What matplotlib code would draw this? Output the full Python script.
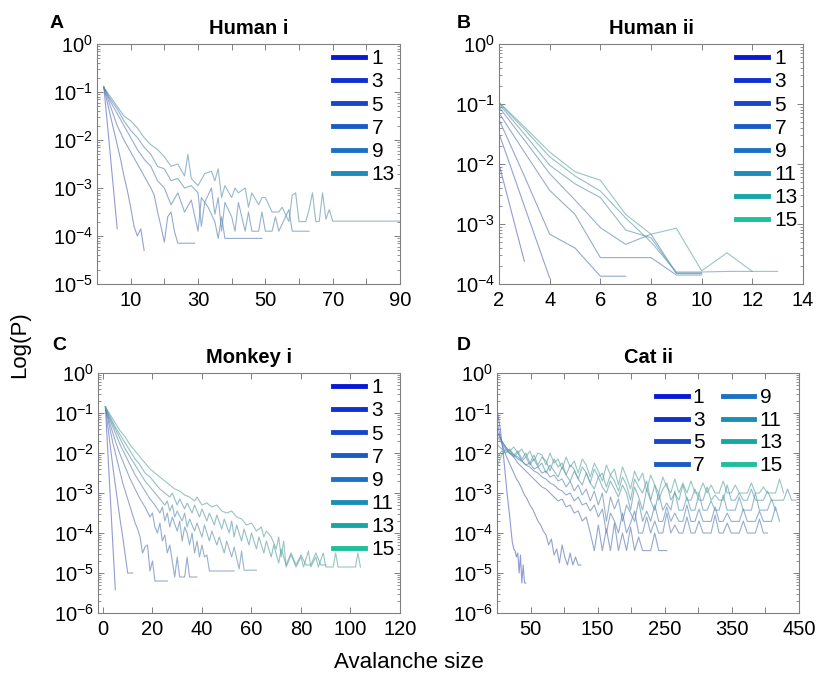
import numpy as np
import matplotlib
matplotlib.use("Agg")
import matplotlib.pyplot as plt
from matplotlib.lines import Line2D
from matplotlib.ticker import LogLocator, NullFormatter

plt.rcParams['font.family'] = ['Liberation Sans', 'DejaVu Sans']
plt.rcParams['mathtext.fontset'] = 'custom'
plt.rcParams['mathtext.rm'] = 'Liberation Sans'
plt.rcParams['mathtext.it'] = 'Liberation Sans:italic'
plt.rcParams['mathtext.bf'] = 'Liberation Sans:bold'

# legend colours, one per bin width label
labels_all = ['1', '3', '5', '7', '9', '11', '13', '15']
colors_all = ['#0a18d6', '#1030d0', '#1646cc', '#1a5cc6',
              '#1c72c2', '#1a8eb8', '#16a6a8', '#1ebf9c']

# ---- Panel A: Human i (log10 P) ----
a_labels = ['1', '3', '5', '7', '9', '13']
a_x1 = [2, 3, 4, 5, 6]
a_y1 = [-0.88, -1.6, -2.35, -3.1, -3.85]
a_x3 = [2, 3, 4, 5, 6, 7, 8, 9, 10, 11, 12, 13, 14]
a_y3 = [-0.9, -1.2, -1.5, -1.8, -2.1, -2.4, -2.75, -3.05, -3.4, -3.8, -4.0, -3.85, -4.3]
a_x5 = [2, 4, 6, 8, 10, 12, 14, 16, 17, 18, 19, 20, 21, 22, 23, 24, 29]
a_y5 = [-0.9, -1.3, -1.7, -2.0, -2.25, -2.5, -2.75, -3.0, -3.15, -3.5, -3.8, -4.13,
        -3.6, -3.5, -3.9, -4.15, -4.15]
a_x7 = [2, 4, 6, 8, 10, 12, 14, 16, 18, 20, 22, 24, 26, 28, 30, 31, 33, 35, 36, 37, 38, 49]
a_y7 = [-0.9, -1.2, -1.45, -1.7, -1.95, -2.2, -2.4, -2.55, -2.85, -3.0, -3.35, -3.1,
        -3.5, -3.25, -3.9, -3.2, -3.4, -3.7, -4.05, -3.6, -4.05, -4.05]
a_x9 = [2, 4, 6, 8, 10, 12, 14, 16, 18, 20, 22, 24, 26, 28, 30, 31, 32, 34, 35, 36,
        37, 38, 40, 41, 42, 44, 45, 46, 48, 49, 50, 52, 53, 54, 57, 58, 63]
a_y9 = [-0.9, -1.15, -1.35, -1.6, -1.8, -1.95, -2.15, -2.3, -2.55, -2.6,
        -2.85, -2.8, -3.0, -2.95, -3.1, -3.8, -3.3, -3.0, -3.55, -3.2,
        -3.9, -3.3, -3.6, -3.9, -3.3, -3.9, -3.5, -3.9, -3.9, -3.5,
        -3.9, -3.9, -3.6, -3.9, -3.45, -3.9, -3.9]
a_x13 = [2, 4, 6, 8, 10, 12, 14, 16, 18, 20, 22, 24, 26, 27, 28, 30, 32, 34, 35, 36,
         37, 38, 40, 41, 42, 44, 45, 46, 48, 49, 50, 52, 53, 54, 55, 57, 58, 59, 60, 61,
         62, 63, 64, 65, 66, 67, 68, 69, 70, 90]
a_y13 = [-0.9, -1.1, -1.3, -1.5, -1.6, -1.75, -1.95, -2.1, -2.2, -2.35,
         -2.55, -2.5, -2.75, -2.3, -2.8, -2.95, -2.7, -2.65, -2.85, -2.6,
         -3.2, -2.95, -3.2, -3.0, -3.1, -3.0, -3.4, -3.1, -3.35, -3.2,
         -3.2, -3.5, -3.5, -3.5, -3.4, -3.7, -3.15, -3.1, -3.7, -3.7,
         -3.7, -3.45, -3.1, -3.7, -3.7, -3.1, -3.65, -3.45, -3.69, -3.69]

# ---- Panel B: Human ii ----
b_x1 = [2, 3]
b_y1 = [-2.0, -3.62]
b_x3 = [2, 3, 4]
b_y3 = [-1.49, -2.7, -3.9]
b_x5 = [2, 3, 4, 5, 6, 7]
b_y5 = [-1.26, -2.2, -3.17, -3.4, -3.87, -3.87]
b_x7 = [2, 3, 4, 5, 6, 7, 8, 9, 10]
b_y7 = [-1.15, -1.8, -2.44, -2.84, -3.56, -3.56, -3.56, -3.85, -3.85]
b_x9 = [2, 3, 4, 5, 6, 7, 8, 9, 10]
b_y9 = [-1.05, -1.6, -2.16, -2.6, -3.06, -3.34, -3.17, -3.82, -3.82]
b_x11 = [2, 3, 4, 5, 6, 7, 8, 9, 10]
b_y11 = [-1.0, -1.5, -2.02, -2.33, -2.56, -3.1, -3.23, -3.82, -3.82]
b_x13 = [2, 3, 4, 5, 6, 7, 8, 9, 10, 11, 12]
b_y13 = [-0.98, -1.42, -1.88, -2.2, -2.45, -2.9, -3.3, -3.8, -3.8, -3.79, -3.79]
b_x15 = [2, 3, 4, 5, 6, 7, 8, 9, 10, 11, 12, 13]
b_y15 = [-0.97, -1.38, -1.8, -2.13, -2.27, -2.84, -3.17, -3.07, -3.78, -3.48, -3.79, -3.79]

# ---- Panel C: Monkey i ----
c_x1 = [1, 2, 3, 4, 5]
c_y1 = [-0.85, -2.0, -3.15, -4.3, -5.42]
c_x3 = [1, 2, 3, 4, 5, 6, 7, 8, 9, 10, 11, 12]
c_y3 = [-0.85, -1.35, -1.85, -2.35, -2.8, -3.25, -3.7, -4.1, -4.55, -5.0, -5.0, -5.0]
c_x5 = [1, 2, 3, 4, 5, 6, 7, 8, 9, 10, 11, 12, 13, 14, 15, 16, 17, 18, 19, 20, 21, 26]
c_y5 = [-0.85, -1.15, -1.45, -1.75, -2.0, -2.25, -2.5, -2.75, -2.95, -3.15,
        -3.35, -3.55, -3.75, -3.9, -4.1, -4.5, -4.35, -4.3, -4.95, -4.7, -5.2, -5.2]
c_x7 = [1, 3, 5, 7, 9, 11, 13, 15, 17, 19, 20, 21, 22, 23, 24, 25, 26, 27, 28, 29,
        30, 31, 33, 34, 35, 38]
c_y7 = [-0.85, -1.3, -1.7, -2.05, -2.35, -2.65, -2.9, -3.15, -3.35, -3.6,
        -3.5, -3.85, -4.0, -3.75, -4.2, -4.05, -4.5, -4.3, -4.7, -5.1,
        -4.6, -5.1, -5.1, -4.6, -5.1, -5.1]
c_x9 = [1, 3, 5, 7, 9, 11, 13, 15, 17, 19, 21, 23, 24, 25, 26, 27, 28, 30, 31, 32,
        33, 34, 35, 36, 37, 38, 39, 40, 41, 42, 43, 53]
c_y9 = [-0.85, -1.2, -1.5, -1.8, -2.05, -2.3, -2.55, -2.75, -2.95, -3.15,
        -3.3, -3.5, -3.35, -3.7, -3.5, -3.85, -3.6, -3.95, -3.7, -4.2,
        -3.85, -4.0, -4.3, -4.0, -4.5, -4.2, -4.6, -4.3, -4.6, -4.55,
        -4.95, -4.95]
c_x11 = [1, 3, 5, 7, 9, 11, 13, 15, 17, 19, 21, 23, 25, 26, 27, 28, 29, 30, 32, 33,
         34, 35, 37, 38, 40, 41, 43, 44, 46, 47, 49, 50, 52, 53, 55, 56, 57, 62]
c_y11 = [-0.85, -1.15, -1.4, -1.65, -1.9, -2.1, -2.3, -2.5, -2.7, -2.85,
         -3.0, -3.15, -3.3, -3.2, -3.45, -3.3, -3.6, -3.45, -3.7, -3.5,
         -3.85, -3.65, -3.95, -3.75, -4.1, -3.8, -4.2, -3.95, -4.3, -4.1,
         -4.5, -4.2, -4.6, -4.35, -4.9, -4.45, -4.93, -4.93]
c_x13 = [1, 3, 5, 7, 9, 11, 13, 15, 17, 19, 21, 23, 25, 27, 28, 30, 31, 33, 34, 36,
         37, 39, 40, 42, 43, 45, 46, 48, 49, 51, 52, 53, 54, 56, 57, 59, 60, 62, 63, 65,
         66, 68, 69, 71, 72, 74, 76, 78, 80, 82, 84, 86, 88, 90]
c_y13 = [-0.85, -1.1, -1.35, -1.55, -1.75, -1.95, -2.15, -2.3, -2.5, -2.6,
         -2.75, -2.9, -3.0, -3.1, -3.0, -3.3, -3.15, -3.4, -3.25, -3.5,
         -3.3, -3.6, -3.4, -3.7, -3.5, -3.8, -3.55, -3.9, -3.65, -4.0,
         -3.7, -4.1, -3.8, -4.2, -3.9, -4.3, -4.0, -4.4, -4.1, -4.5,
         -4.2, -4.6, -4.3, -4.75, -4.4, -4.8, -4.5, -4.8, -4.55, -4.8,
         -4.8, -4.5, -4.8, -4.8]
c_x15 = [1, 3, 5, 7, 9, 11, 13, 15, 17, 19, 21, 23, 25, 27, 29, 31, 33, 35, 37, 38,
         40, 42, 44, 46, 48, 50, 52, 54, 56, 58, 60, 62, 64, 65, 66, 68, 70, 71, 72, 73,
         74, 76, 78, 80, 81, 83, 84, 86, 87, 89, 90, 93, 94, 95, 102, 103, 104]
c_y15 = [-0.85, -1.05, -1.25, -1.45, -1.6, -1.8, -1.95, -2.1, -2.25, -2.4,
         -2.5, -2.6, -2.7, -2.8, -2.9, -2.95, -3.05, -3.1, -3.2, -3.1,
         -3.3, -3.25, -3.35, -3.3, -3.45, -3.5, -3.45, -3.6, -3.65, -3.8,
         -3.75, -3.95, -3.85, -4.1, -3.95, -4.1, -4.4, -4.1, -4.6, -4.2,
         -4.85, -4.55, -4.85, -4.6, -4.85, -4.45, -4.85, -4.6, -4.85, -4.5,
         -4.85, -4.85, -4.5, -4.85, -4.85, -4.5, -4.85]

# ---- Panel D: Cat ii (values read every few avalanche sizes) ----
d_x1 = [1, 3, 5, 7, 9, 11, 13, 15, 17, 19, 21, 23, 25, 27, 29, 31, 33, 35, 37, 39, 41, 43]
d_y1 = [-1.0, -1.2, -1.4, -1.7, -1.95, -2.3, -2.65, -3.0, -3.3, -3.6, -3.95,
        -4.25, -4.4, -4.45, -4.6, -4.5, -5.0, -4.55, -5.25, -4.8, -5.25, -5.25]
d_y3 = [-1.3, -1.6, -1.85, -2.05, -2.2, -2.35, -2.5, -2.65, -2.75, -2.9,
        -3.05, -3.15, -3.3, -3.4, -3.55, -3.7, -3.8, -3.95, -4.05, -4.3,
        -4.15, -4.55, -4.4, -4.75, -4.3, -4.6, -4.8, -4.5, -4.8, -4.6,
        -4.8, -4.8]
d_x3 = np.arange(1, 1 + 4 * len(d_y3), 4)
d_y5 = [-1.5, -1.7, -1.85, -2.0, -2.1, -2.25, -2.35, -2.45, -2.55, -2.65,
        -2.75, -2.85, -2.9, -3.0, -3.1, -3.2, -3.15, -3.35, -3.3, -3.5,
        -3.45, -3.7, -3.6, -4.0, -4.44, -3.8, -4.44, -3.9, -4.44, -3.75,
        -4.44, -4.0, -4.44, -3.85, -4.44, -4.1, -4.44, -4.44, -4.44, -4.0,
        -4.44, -4.44, -4.44]
d_x5 = np.arange(1, 1 + 6 * len(d_y5), 6)
d_y7 = [-1.5, -1.7, -1.85, -1.95, -2.05, -2.1, -2.2, -2.3, -2.35, -2.45,
        -2.5, -2.6, -2.65, -2.75, -2.8, -2.9, -2.95, -3.05, -3.0, -3.2,
        -3.1, -3.3, -3.25, -3.45, -3.3, -3.6, -3.4, -4.0, -3.5, -3.7,
        -4.0, -3.5, -4.0, -3.75, -3.45, -4.0, -4.0, -3.6, -4.0, -3.7,
        -4.0, -4.0, -3.5, -4.0, -3.8, -4.0, -4.0, -3.6, -4.0, -4.0,
        -3.7, -4.0, -4.0, -4.0, -3.55, -4.0, -4.0, -3.75, -4.0, -4.0,
        -4.0, -3.7, -4.0, -4.0, -4.0, -3.65, -4.0, -4.0]
d_x7 = np.arange(1, 1 + 6 * len(d_y7), 6)
d_y9 = [-1.6, -1.75, -1.9, -2.0, -2.05, -2.15, -2.2, -2.3, -2.25, -2.4,
        -2.35, -2.5, -2.45, -2.6, -2.55, -2.7, -2.65, -2.85, -2.7, -2.95,
        -2.8, -3.05, -2.9, -3.2, -2.95, -3.3, -3.0, -3.71, -3.1, -3.4,
        -3.15, -3.71, -3.3, -3.5, -3.71, -3.2, -3.71, -3.45, -3.71, -3.3,
        -3.71, -3.71, -3.35, -3.71, -3.5, -3.71, -3.71, -3.3, -3.71, -3.71,
        -3.4, -3.71, -3.71, -3.71, -3.35, -3.71, -3.71, -3.5, -3.71, -3.71,
        -3.71, -3.4, -3.71, -3.71, -3.71, -3.45, -3.71, -3.71, -3.71, -3.35,
        -3.71]
d_x9 = np.arange(1, 1 + 6 * len(d_y9), 6)
d_y11 = [-1.8, -1.9, -1.95, -2.0, -2.1, -2.0, -2.2, -2.1, -2.3, -2.15,
         -2.35, -2.25, -2.5, -2.3, -2.45, -2.6, -2.35, -2.55, -2.7, -2.45,
         -2.65, -2.8, -2.5, -2.75, -2.9, -2.6, -2.85, -3.0, -2.7, -2.9,
         -3.1, -2.8, -3.0, -3.43, -2.85, -3.1, -3.43, -2.9, -3.2, -3.43,
         -3.0, -3.43, -3.25, -3.43, -2.95, -3.43, -3.43, -3.1, -3.43, -3.43,
         -3.0, -3.43, -3.43, -3.2, -3.43, -3.43, -3.05, -3.43, -3.43, -3.43,
         -3.1, -3.43, -3.43, -3.43, -3.0, -3.43, -3.43, -3.43, -3.15, -3.43]
d_x11 = np.arange(1, 1 + 6 * len(d_y11), 6)
d_y13 = [-2.1, -1.95, -2.0, -1.9, -2.05, -1.95, -2.15, -2.0, -2.25, -2.05,
         -2.3, -2.1, -2.2, -2.45, -2.15, -2.35, -2.25, -2.55, -2.3, -2.4,
         -2.65, -2.35, -2.5, -2.75, -2.4, -2.6, -2.5, -2.85, -2.55, -2.7,
         -2.95, -2.6, -2.8, -3.18, -2.65, -2.85, -3.0, -2.7, -3.18, -2.8,
         -3.18, -2.9, -2.75, -3.18, -3.0, -3.18, -2.8, -3.18, -3.18, -2.9,
         -3.18, -3.18, -2.85, -3.18, -3.05, -3.18, -3.18, -2.8, -3.18, -3.18,
         -3.0, -3.18, -3.18, -2.9, -3.18, -3.18, -3.18, -2.95, -3.18, -3.18,
         -3.18, -3.18, -2.9, -3.18, -3.18]
d_x13 = np.arange(1, 1 + 6 * len(d_y13), 6)
d_y15 = [-2.3, -2.05, -1.9, -1.95, -1.85, -2.0, -1.9, -2.1, -1.95, -2.2,
         -2.0, -2.05, -2.3, -2.0, -2.25, -2.15, -2.4, -2.1, -2.35, -2.2,
         -2.5, -2.15, -2.3, -2.6, -2.25, -2.45, -2.7, -2.3, -2.55, -2.4,
         -2.8, -2.35, -2.6, -2.9, -2.45, -2.7, -2.5, -2.95, -2.55, -2.8,
         -3.0, -2.6, -2.85, -3.0, -2.65, -3.0, -2.75, -3.0, -2.7, -3.0,
         -3.0, -2.75, -3.0, -2.8, -3.0, -3.0, -2.7, -3.0, -3.0, -2.8,
         -3.0, -3.0, -3.0, -2.75, -3.0, -3.0, -2.85, -3.0, -3.0, -3.0,
         -2.65, -3.0]
d_x15 = np.arange(1, 1 + 6 * len(d_y15), 6)

panels = [
    dict(letter='A', title='Human i', labels=a_labels,
         lines=[(a_x1, a_y1), (a_x3, a_y3), (a_x5, a_y5), (a_x7, a_y7),
                (a_x9, a_y9), (a_x13, a_y13)],
         xlim=(0, 90), major=[10, 30, 50, 70, 90], minor=[20, 40, 60, 80],
         ymin=-5, ncol=1),
    dict(letter='B', title='Human ii', labels=labels_all,
         lines=[(b_x1, b_y1), (b_x3, b_y3), (b_x5, b_y5), (b_x7, b_y7),
                (b_x9, b_y9), (b_x11, b_y11), (b_x13, b_y13), (b_x15, b_y15)],
         xlim=(2, 14), major=[2, 4, 6, 8, 10, 12, 14], minor=[],
         ymin=-4, ncol=1),
    dict(letter='C', title='Monkey i', labels=labels_all,
         lines=[(c_x1, c_y1), (c_x3, c_y3), (c_x5, c_y5), (c_x7, c_y7),
                (c_x9, c_y9), (c_x11, c_y11), (c_x13, c_y13), (c_x15, c_y15)],
         xlim=(-2, 120), major=[0, 20, 40, 60, 80, 100, 120], minor=[],
         ymin=-6, ncol=1),
    dict(letter='D', title='Cat ii', labels=labels_all,
         lines=[(d_x1, d_y1), (d_x3, d_y3), (d_x5, d_y5), (d_x7, d_y7),
                (d_x9, d_y9), (d_x11, d_y11), (d_x13, d_y13), (d_x15, d_y15)],
         xlim=(0, 450), major=[50, 150, 250, 350, 450], minor=[100, 200, 300, 400],
         ymin=-6, ncol=2),
]

W, H = 818, 675
fig = plt.figure(figsize=(W / 100, H / 100), dpi=100)

# axes boxes in pixels: left, top, right, bottom
boxes = [(97, 44, 400, 284), (499, 44, 803, 284),
         (98, 373, 400, 613), (497, 373, 799, 613)]
letter_pos = [(50, 23), (457, 23), (52, 346), (457, 346)]

gray = np.array([0.55, 0.6, 0.66])

for p, (l, t, r, b), (lx, ly) in zip(panels, boxes, letter_pos):
    ax = fig.add_axes([l / W, 1 - b / H, (r - l) / W, (b - t) / H])
    cols = colors_all[:len(p['labels'])]
    for (x, y), c in zip(p['lines'], cols):
        rgb = np.array(matplotlib.colors.to_rgb(c))
        lc = 0.4 * rgb + 0.6 * gray
        ax.plot(x, 10.0 ** np.array(y), color=lc, lw=0.8, alpha=0.65)
    ax.set_yscale('log')
    ax.set_xlim(*p['xlim'])
    ax.set_ylim(10.0 ** p['ymin'], 1)
    # one labelled tick per decade
    ax.yaxis.set_major_locator(LogLocator(base=10, numticks=20))
    ax.yaxis.set_minor_locator(LogLocator(base=10, subs=np.arange(2, 10), numticks=20))
    ax.yaxis.set_minor_formatter(NullFormatter())
    ax.set_xticks(p['major'])
    ax.set_xticks(p['minor'], minor=True)
    ax.tick_params(which='both', direction='in', top=True, right=True,
                   color='#808080', labelsize=14.5)
    ax.tick_params(which='major', length=4, width=0.7)
    ax.tick_params(which='minor', length=2.5, width=0.6)
    ax.tick_params(axis='x', which='minor', length=4, width=0.7)
    ax.tick_params(axis='y', pad=3)
    ax.tick_params(axis='x', pad=5)
    for s in ax.spines.values():
        s.set_color('#808080')
        s.set_linewidth(0.8)
    ax.set_title(p['title'], fontsize=14.5, fontweight='bold', pad=7)
    fig.text(lx / W, 1 - ly / H, p['letter'], fontsize=14, fontweight='bold',
             va='center', ha='left')

    handles = [Line2D([], [], color=c, lw=3.5) for c in cols]
    if p['ncol'] == 1:
        ax.legend(handles, p['labels'], loc='upper right', bbox_to_anchor=(1.0, 1.0),
                  frameon=False, fontsize=15, handlelength=1.55, handletextpad=0.3,
                  labelspacing=0.2, borderpad=0.15, borderaxespad=0.1)
    else:
        ax.legend(handles, p['labels'], loc='upper right', bbox_to_anchor=(0.964, 0.958),
                  frameon=False, fontsize=15, handlelength=1.5, handletextpad=0.25,
                  labelspacing=0.17, borderpad=0.15, borderaxespad=0.1, ncol=2,
                  columnspacing=0.9)

fig.text(20 / W, 1 - 345 / H, 'Log(P)', rotation=90, fontsize=16, va='center', ha='center')
fig.text(409 / W, 1 - 663 / H, 'Avalanche size', fontsize=16, va='center', ha='center')

fig.savefig('out.png', dpi=100)
